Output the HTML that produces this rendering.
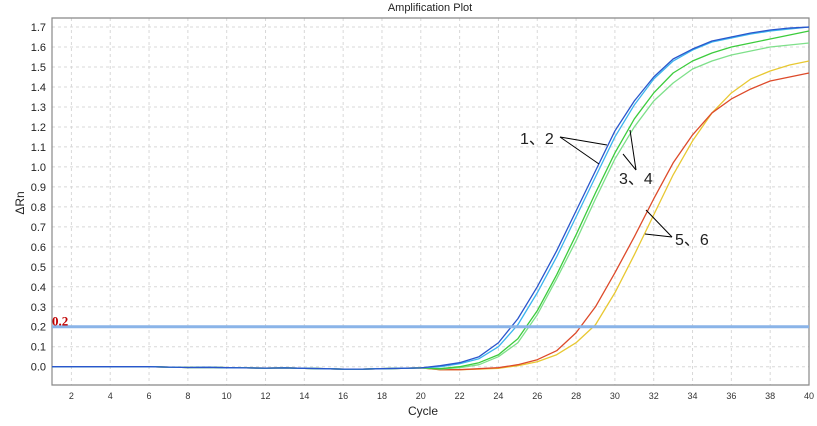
<!DOCTYPE html>
<html><head><meta charset="utf-8"><style>
body{margin:0;background:#fff;width:817px;height:421px;overflow:hidden;font-family:"Liberation Sans",sans-serif}
</style></head><body>
<svg width="817" height="421" id="chart" xmlns="http://www.w3.org/2000/svg">
<text x="430" y="11" font-size="11" text-anchor="middle" fill="#222">Amplification Plot</text>
<text x="423" y="415" font-size="12" text-anchor="middle" fill="#222">Cycle</text>
<text transform="translate(24,203) rotate(-90)" font-size="12" text-anchor="middle" fill="#222">ΔRn</text>
<g id="grid"></g><g id="axes"></g><g id="series"></g>
<g font-family="'Liberation Sans','Noto Sans CJK SC',sans-serif" font-size="16" fill="#222">
<text x="520" y="144">1、2</text>
<line x1="560" y1="137" x2="607" y2="145" stroke="#000"/>
<line x1="560" y1="137" x2="599" y2="164" stroke="#000"/>
<text x="619" y="184">3、4</text>
<line x1="636" y1="170" x2="630" y2="130" stroke="#000"/>
<line x1="636" y1="170" x2="623" y2="154" stroke="#000"/>
<text x="675" y="245">5、6</text>
<line x1="672" y1="237" x2="646" y2="210" stroke="#000"/>
<line x1="672" y1="237" x2="645" y2="234" stroke="#000"/>
</g>
</svg>
<script>
const cycles=[1,2,3,4,5,6,7,8,9,10,11,12,13,14,15,16,17,18,19,20,21,22,23,24,25,26,27,28,29,30,31,32,33,34,35,36,37,38,39,40];
const yTicks=[0.0,0.1,0.2,0.3,0.4,0.5,0.6,0.7,0.8,0.9,1.0,1.1,1.2,1.3,1.4,1.5,1.6,1.7];
const xTicks=[2,4,6,8,10,12,14,16,18,20,22,24,26,28,30,32,34,36,38,40];
const threshold=0.2;
const base=[0,0,0,0,0,0,-0.002,-0.004,-0.003,-0.005,-0.006,-0.007,-0.006,-0.008,-0.01,-0.012,-0.012,-0.01,-0.008,-0.006];
const s1=base.concat([0.005,0.02,0.05,0.12,0.24,0.4,0.58,0.78,0.98,1.18,1.33,1.45,1.54,1.59,1.63,1.65,1.67,1.685,1.695,1.70]);
const s2=base.concat([0.0,0.015,0.04,0.1,0.21,0.37,0.55,0.75,0.95,1.15,1.31,1.44,1.53,1.585,1.625,1.645,1.665,1.68,1.69,1.70]);
const s3=base.concat([-0.01,0.0,0.02,0.06,0.14,0.28,0.46,0.66,0.87,1.07,1.24,1.37,1.47,1.53,1.57,1.6,1.62,1.64,1.66,1.68]);
const s4=base.concat([-0.012,-0.005,0.01,0.05,0.12,0.26,0.44,0.63,0.84,1.04,1.2,1.33,1.42,1.49,1.53,1.56,1.58,1.6,1.61,1.62]);
const s5=base.concat([-0.015,-0.015,-0.01,-0.005,0.01,0.035,0.08,0.17,0.3,0.47,0.65,0.84,1.02,1.16,1.27,1.34,1.39,1.43,1.45,1.47]);
const s6=base.concat([-0.015,-0.015,-0.012,-0.008,0.005,0.025,0.06,0.12,0.21,0.37,0.56,0.76,0.96,1.13,1.27,1.37,1.44,1.48,1.51,1.53]);
const seriesList=[[s6,'#e8c832','series-6'],[s5,'#dd4a2a','series-5'],[s4,'#7ee08a','series-4'],[s3,'#3ccc3c','series-3'],[s2,'#3cb4ee','series-2'],[s1,'#2a56cc','series-1']];
const L=52,R=809,T=18,B=385;
const xs=c=>L+(c-1)*(R-L)/39;
const ys=v=>366.7-v*199.8;
const NS='http://www.w3.org/2000/svg';
function mk(tag,attrs,parent){const e=document.createElementNS(NS,tag);for(const k in attrs)e.setAttribute(k,attrs[k]);parent.appendChild(e);return e;}
const grid=document.getElementById('grid'),axes=document.getElementById('axes'),ser=document.getElementById('series');
for(const t of yTicks){
 const g=mk('line',{x1:L,x2:R,y1:ys(t),y2:ys(t),stroke:'#d8d8d8','stroke-dasharray':'3,3'},grid);
 
 
 const lb=mk('text',{x:46,y:ys(t)+4,'font-size':11,'text-anchor':'end',fill:'#222'},axes);
 lb.textContent=t.toFixed(1);
 
 
}
for(const t of xTicks){
 const g=mk('line',{x1:xs(t),x2:xs(t),y1:T,y2:B,stroke:'#d8d8d8','stroke-dasharray':'3,3'},grid);
 
 
 const lb=mk('text',{x:xs(t),y:B+14,'font-size':9,'text-anchor':'middle',fill:'#333'},axes);
 lb.textContent=t;
 
 
}
const frame=mk('path',{d:`M${L},${T}H${R}V${B}H${L}Z`,fill:'none',stroke:'#888','stroke-width':1.2},axes);


for(const [d,col,name] of seriesList){
 const p=mk('polyline',{points:d.map((v,i)=>xs(cycles[i])+','+ys(v)).join(' '),fill:'none',stroke:col,'stroke-width':1.3,'stroke-linejoin':'round'},ser);
 
 
}
const th=mk('line',{x1:L,x2:R,y1:ys(threshold),y2:ys(threshold),stroke:'#8ab4e8','stroke-width':3},ser);


const tl=mk('text',{x:L,y:ys(threshold)-1,'font-size':13,'font-weight':'bold','font-family':'Liberation Serif,serif',fill:'#c00000'},ser);
tl.textContent=threshold;


</script>
</body></html>
